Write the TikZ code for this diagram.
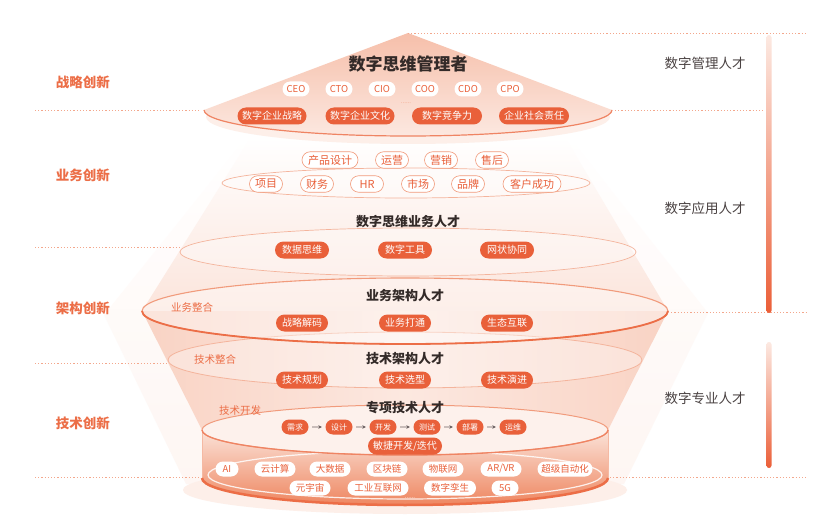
\documentclass[tikz,border=0pt]{standalone}
\usepackage{fontspec}
\setmainfont{Noto Sans CJK SC}
\usetikzlibrary{shapes.misc,arrows.meta}
\definecolor{org}{HTML}{E9603A}
\definecolor{orgd}{HTML}{EC6E47}
\definecolor{orgl}{HTML}{F19B7C}
\definecolor{orgll}{HTML}{F4B49C}
\definecolor{dotc}{HTML}{F3A78C}
\definecolor{pk}{HTML}{F9D3C4}
\definecolor{pkl}{HTML}{FCE8E0}
\definecolor{pkx}{HTML}{FEF4F0}
\definecolor{topc}{HTML}{F6BFAA}
\definecolor{cyltop}{HTML}{FBE3D9}
\definecolor{cylbot}{HTML}{EE8660}
\definecolor{cylcap}{HTML}{FDF1EC}
\definecolor{txt}{HTML}{332A28}
\definecolor{gr}{HTML}{4A4242}
\definecolor{arr}{HTML}{6A6060}
\definecolor{barl}{HTML}{FCE9E2}
\definecolor{bard}{HTML}{EB5F38}
\begin{document}
\begin{tikzpicture}[x=1pt,y=-1pt,
 ochip/.style={rounded rectangle, fill=org, text=white, font=\fontsize{10pt}{11pt}\selectfont, minimum height=17pt, inner xsep=3pt, inner ysep=0pt},
 wchip/.style={rounded rectangle, fill=white, text=org, font=\fontsize{9.5pt}{10pt}\selectfont, minimum height=15pt, inner xsep=3pt, inner ysep=0pt},
 lchip/.style={rounded rectangle, fill=white, draw=orgl, line width=0.6pt, text=org, font=\fontsize{11pt}{12pt}\selectfont, minimum height=16.5pt, inner xsep=3pt, inner ysep=0pt},
 pchip/.style={rounded rectangle, fill=org, text=white, font=\fontsize{8pt}{9pt}\selectfont, minimum height=15pt, minimum width=31pt, inner xsep=2pt, inner ysep=0pt},
 dots/.style={draw=dotc, line width=0.9pt, dash pattern=on 1.2pt off 2pt},
 lab/.style={text=orgd, font=\fontsize{13.5pt}{14pt}\selectfont\bfseries},
 rlab/.style={text=gr, font=\fontsize{13.5pt}{14pt}\selectfont},
 ttl/.style={text=txt, font=\fontsize{13pt}{14pt}\selectfont\bfseries},
 sub/.style={text=orgd, font=\fontsize{10.5pt}{11pt}\selectfont},
 parr/.style={draw=arr, line width=0.7pt, -{Stealth[length=3.5pt,width=3.5pt]}, shorten <=3.5pt, shorten >=3.5pt}]
\useasboundingbox (0,0) rectangle (836,532);
\fill[white] (0,0) rectangle (836,532);

% faint hexagon glow
\shade[top color=white, bottom color=pkx, opacity=0.8] (250,133) -- (566,133) -- (708,313) -- (624,484) -- (186,484) -- (104,315) -- cycle;
% upper funnel
\shade[top color=white, bottom color=pk!60] (251,137) -- (565,137) -- (668,311) -- (142,311) -- cycle;
% lower funnel
\shade[left color=pk, right color=pk, middle color=pkl] (142,311) -- (668,311) -- (608,430) -- (202,430) -- cycle;
% bottom glow
\fill[pkl!70] (405,490) ellipse [x radius=222, y radius=24];

% cylinder body
\shade[top color=cyltop, bottom color=cylbot] (202,430) -- (202,478) arc[start angle=180, end angle=0, x radius=203, y radius=27] -- (608,430) -- cycle;
\draw[orgl!70, line width=0.6pt] (202,430) -- (202,478) (608,430) -- (608,478);
\draw[white, line width=1.2pt, opacity=0.85] (405,475) ellipse [x radius=197, y radius=24];
\draw[orgd, line width=2.5pt] (202,478) arc[start angle=180, end angle=0, x radius=203, y radius=27];
% cylinder top
\filldraw[fill=cylcap, draw=orgl, line width=1pt] (405,430) ellipse [x radius=203, y radius=25];
\draw[orgd!85, line width=1.3pt] (202,430) arc[start angle=180, end angle=0, x radius=203, y radius=25];

% ellipses
\filldraw[fill=white, fill opacity=0.35, draw=orgll, line width=0.8pt] (405,360) ellipse [x radius=237, y radius=28];
\filldraw[fill=white, fill opacity=0.4, draw=orgl, line width=1.1pt] (405,311) ellipse [x radius=263, y radius=33];
\draw[orgd, line width=1.8pt] (142,311) arc[start angle=180, end angle=0, x radius=263, y radius=33];
\filldraw[fill=white, fill opacity=0.35, draw=orgll, line width=0.7pt] (408,252) ellipse [x radius=228, y radius=24];
\filldraw[fill=white, fill opacity=0.35, draw=orgll, line width=0.7pt] (406,183) ellipse [x radius=184, y radius=15];

% top cone
\fill[pkl!70] (408,117) ellipse [x radius=202, y radius=27];
\shade[top color=topc, middle color=white, bottom color=pkl] (408,33) -- (204,110) arc[start angle=180, end angle=0, x radius=204, y radius=26] -- cycle;
\draw[orgd!85, line width=1.2pt] (204,110) arc[start angle=180, end angle=0, x radius=204, y radius=26];

% dotted guide lines
\coordinate (t0) at (408,33); \coordinate (t1) at (807,33);
\coordinate (a0) at (35,110); \coordinate (a1) at (201,110);
\coordinate (a2) at (615,110); \coordinate (a3) at (763,110);
\coordinate (b0) at (35,247); \coordinate (b1) at (180,247);
\coordinate (c0) at (668,312); \coordinate (c1) at (807,312);
\coordinate (d0) at (35,363); \coordinate (d1) at (169,363);
\coordinate (e0) at (35,477); \coordinate (e1) at (201,477);
\coordinate (e2) at (610,477); \coordinate (e3) at (807,477);
\draw[dots] (t0) -- (t1);
\draw[dots] (a0) -- (a1);
\draw[dots] (a2) -- (a3);
\draw[dots] (b0) -- (b1);
\draw[dots] (c0) -- (c1);
\draw[dots] (d0) -- (d1);
\draw[dots] (e0) -- (e1);
\draw[dots] (e2) -- (e3);

% right bars
\shade[top color=barl, bottom color=bard, rounded corners=2.5pt] (766.5,35) rectangle (771.5,313);
\shade[top color=barl, bottom color=bard, rounded corners=2.5pt] (766.5,342) rectangle (771.5,468);

% left labels
\node[lab] (l1) at (83,82) {战略创新};
\node[lab] (l2) at (83,175) {业务创新};
\node[lab] (l3) at (83,308) {架构创新};
\node[lab] (l4) at (83,423) {技术创新};
% right labels
\node[rlab] (r1) at (705,63) {数字管理人才};
\node[rlab] (r2) at (705,208) {数字应用人才};
\node[rlab] (r3) at (705,398) {数字专业人才};

% top layer
\node[text=txt, font=\fontsize{17pt}{18pt}\selectfont\bfseries] (t) at (408,64) {数字思维管理者};
\node[wchip, minimum width=33pt] (c1) at (296,89) {CEO};
\node[wchip, minimum width=33pt] (c2) at (339,89) {CTO};
\node[wchip, minimum width=33pt] (c3) at (382,89) {CIO};
\node[wchip, minimum width=33pt] (c4) at (425,89) {COO};
\node[wchip, minimum width=33pt] (c5) at (468,89) {CDO};
\node[wchip, minimum width=33pt] (c6) at (510,89) {CPO};
\node[text=orgl, font=\fontsize{6pt}{6pt}\selectfont, inner sep=0pt] (tdots) at (406,103) {......};
\node[ochip, minimum width=75pt] (s1) at (272,116) {数字企业战略};
\node[ochip, minimum width=75pt] (s2) at (360,116) {数字企业文化};
\node[ochip, minimum width=76pt] (s3) at (447,116) {数字竞争力};
\node[ochip, minimum width=76pt] (s4) at (534,116) {企业社会责任};

% business layer
\node[lchip, minimum width=62pt] (b1) at (330,160) {产品设计};
\node[lchip, minimum width=39pt] (b2) at (392,160) {运营};
\node[lchip, minimum width=39pt] (b3) at (441,160) {营销};
\node[lchip, minimum width=39pt] (b4) at (492,160) {售后};
\node[lchip, minimum width=39pt] (b5) at (266,184) {项目};
\node[lchip, minimum width=39pt] (b6) at (317,184) {财务};
\node[lchip, minimum width=39pt] (b7) at (367,184) {HR};
\node[lchip, minimum width=39pt] (b8) at (418,184) {市场};
\node[lchip, minimum width=39pt] (b9) at (468,184) {品牌};
\node[lchip, minimum width=64pt] (b10) at (532,184) {客户成功};

\node[ttl] (tb) at (408,222) {数字思维业务人才};
\node[ochip, minimum width=60pt] (u1) at (302,250) {数据思维};
\node[ochip, minimum width=60pt] (u2) at (405,250) {数字工具};
\node[ochip, minimum width=60pt] (u3) at (507,250) {网状协同};

% architecture layers
\node[ttl] (ta) at (405,296) {业务架构人才};
\node[sub] (sa) at (192,307) {业务整合};
\node[ochip, minimum width=58pt] (v1) at (302,323) {战略解码};
\node[ochip, minimum width=58pt] (v2) at (405,323) {业务打通};
\node[ochip, minimum width=58pt] (v3) at (507,323) {生态互联};

\node[ttl] (tt) at (405,359) {技术架构人才};
\node[sub] (st) at (215,359) {技术整合};
\node[ochip, minimum width=58pt] (w1) at (302,380) {技术规划};
\node[ochip, minimum width=58pt] (w2) at (405,380) {技术选型};
\node[ochip, minimum width=58pt] (w3) at (507,380) {技术演进};

% specialist layer
\node[ttl] (ts) at (405,408) {专项技术人才};
\node[sub] (sd) at (240,411) {技术开发};
\node[pchip] (p1) at (295,427) {需求};
\node[pchip] (p2) at (339,427) {设计};
\node[pchip] (p3) at (383,427) {开发};
\node[pchip] (p4) at (427,427) {测试};
\node[pchip] (p5) at (470,427) {部署};
\node[pchip] (p6) at (513,427) {运维};
\draw[parr] (p1) -- (p2);
\draw[parr] (p2) -- (p3);
\draw[parr] (p3) -- (p4);
\draw[parr] (p4) -- (p5);
\draw[parr] (p5) -- (p6);
\node[ochip, minimum width=80pt] (ag) at (405,446) {敏捷开发/迭代};

% technologies
\node[wchip, minimum width=29pt] (k1) at (227,469) {AI};
\node[wchip, minimum width=47pt] (k2) at (275,469) {云计算};
\node[wchip, minimum width=47pt] (k3) at (330,469) {大数据};
\node[wchip, minimum width=47pt] (k4) at (387,469) {区块链};
\node[wchip, minimum width=47pt] (k5) at (443,469) {物联网};
\node[wchip, minimum width=47pt] (k6) at (501,469) {AR/VR};
\node[wchip, minimum width=61pt] (k7) at (565,469) {超级自动化};
\node[wchip, minimum width=47pt] (k8) at (310,488) {元宇宙};
\node[wchip, minimum width=67pt] (k9) at (378,488) {工业互联网};
\node[wchip, minimum width=58pt] (k10) at (450,488) {数字孪生};
\node[wchip, minimum width=33pt] (k11) at (505,488) {5G};
\node[text=white, font=\fontsize{6pt}{6pt}\selectfont, inner sep=0pt] (bdots) at (410,498) {......};
\end{tikzpicture}
\end{document}
